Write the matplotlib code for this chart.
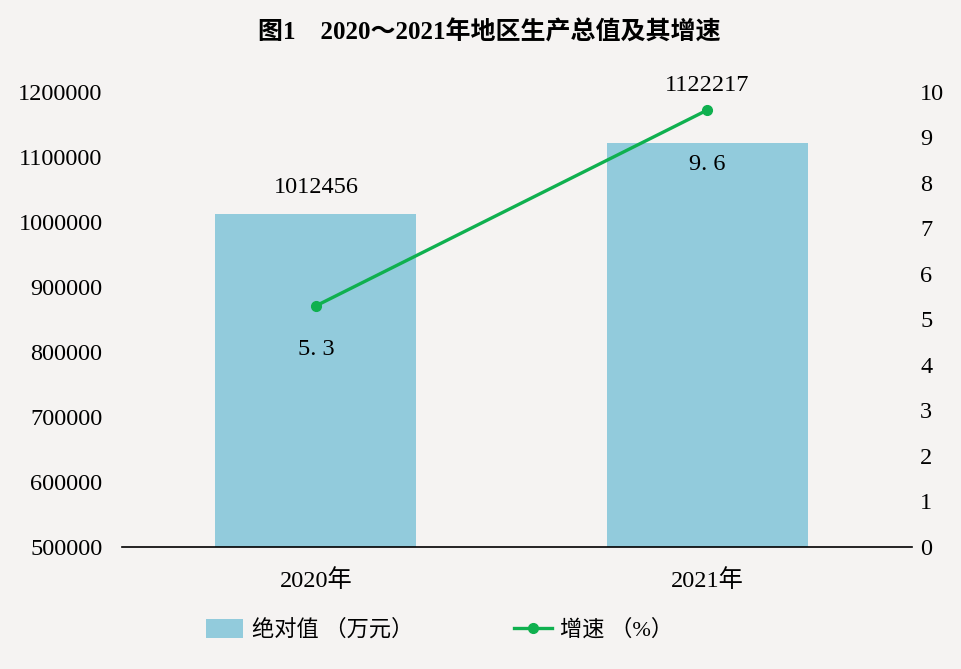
import numpy as np
import matplotlib
matplotlib.use('Agg')
import matplotlib.pyplot as plt
from matplotlib.patches import Patch
from matplotlib.lines import Line2D

plt.rcParams['font.family'] = ['Liberation Serif', 'Noto Sans CJK SC', 'DejaVu Sans']

# data
years = ['2020年', '2021年']
gdp = [1012456, 1122217]          # 绝对值 (万元)
growth = [5.3, 9.6]               # 增速 (%)
gdp_labels = ['1012456', '1122217']
growth_labels = ['5. 3', '9. 6']
left_ticks = [500000, 600000, 700000, 800000, 900000, 1000000, 1100000, 1200000]
right_ticks = list(range(0, 11))

bar_color = '#92CBDC'
line_color = '#0FB04F'
bg = '#F5F3F2'
fs = 17.5

fig = plt.figure(figsize=(9.62, 6.69), dpi=100)
fig.patch.set_facecolor(bg)
ax = fig.add_axes([0.1268, 0.1824, 0.8212, 0.6801])
ax.set_facecolor('none')

x = np.arange(len(years))
ax.bar(x, gdp, width=0.514, color=bar_color, zorder=2)
ax.set_ylim(500000, 1200000)
ax.set_xlim(-0.496, 1.524)
ax.set_yticks(left_ticks)
ax.set_yticklabels([str(t) for t in left_ticks])
ax.set_xticks(x)
ax.set_xticklabels(years)
ax.tick_params(axis='y', length=0, pad=14, labelsize=fs)
ax.tick_params(axis='x', length=0, pad=16, labelsize=fs)
for s in ['top', 'right', 'left']:
    ax.spines[s].set_visible(False)
ax.spines['bottom'].set_color('black')
ax.spines['bottom'].set_linewidth(1.2)
ax.spines['bottom'].set_zorder(5)

ax2 = ax.twinx()
ax2.plot(x, growth, color=line_color, lw=2.4, marker='o', ms=7, zorder=4)
ax2.set_ylim(0, 10)
ax2.set_yticks(right_ticks)
ax2.tick_params(axis='y', length=0, pad=6, labelsize=fs)
for s in ['top', 'right', 'left', 'bottom']:
    ax2.spines[s].set_visible(False)

# value labels
ax.text(x[0], gdp[0] + 40000, gdp_labels[0], ha='center', va='center', fontsize=fs)
ax2.text(x[1], growth[1] + 0.55, gdp_labels[1], ha='center', va='center', fontsize=fs)
ax2.text(x[0], growth[0] - 0.95, growth_labels[0], ha='center', va='center', fontsize=fs)
ax2.text(x[1], growth[1] - 1.2, growth_labels[1], ha='center', va='center', fontsize=fs)

fig.text(0.509, 0.951, '图1　2020～2021年地区生产总值及其增速', ha='center', va='center',
         fontsize=18, fontweight='bold')

handles = [Patch(facecolor=bar_color, edgecolor='none'),
           Line2D([0], [0], color=line_color, lw=2.4, marker='o', ms=7)]
leg = fig.legend(handles, ['绝对值 （万元）', '增速 （%）'], loc='center',
                 bbox_to_anchor=(0.457, 0.058), ncol=2, frameon=False, fontsize=16,
                 handlelength=1.7, handleheight=0.9, columnspacing=4.5, handletextpad=0.4)

fig.savefig('out.png', dpi=100, facecolor=bg)
